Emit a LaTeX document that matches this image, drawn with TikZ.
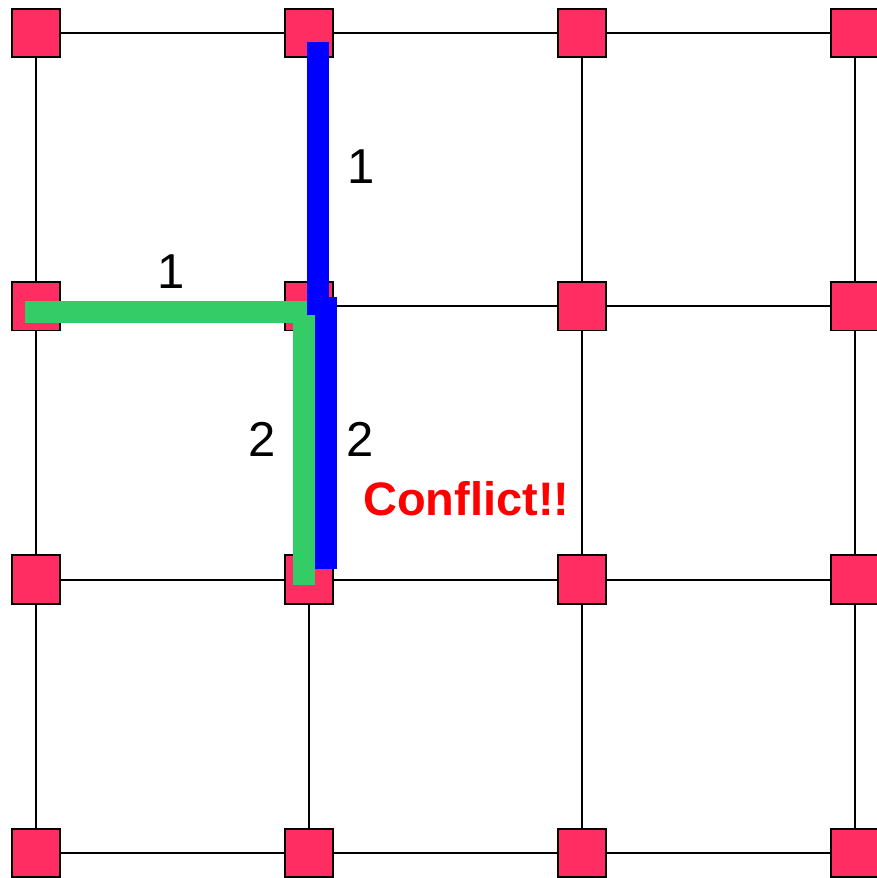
\documentclass[tikz,border=0pt]{standalone}
\usepackage{fontspec}
\setmainfont{Liberation Sans}
\usepackage{tikz}
\usetikzlibrary{calc}
\definecolor{vertpink}{HTML}{FF2D62}
\definecolor{pathgreen}{HTML}{33CC66}
\definecolor{pathblue}{HTML}{0000FF}
\tikzset{
  vertex/.style={draw=black,fill=vertpink,line width=1.8pt,minimum size=48.5pt,inner sep=0pt},
  gridline/.style={draw=black,line width=1.8pt},
  route/.style={line width=22pt,line join=miter},
  cost/.style={font=\fontsize{49}{49}\selectfont,anchor=base,inner sep=0pt}
}

\begin{document}
\begin{tikzpicture}[x=1pt,y=-1pt]
    \clip (0,0) rectangle (877,878);
    % grid of routers
    \foreach \i in {0,...,3}
      \foreach \j in {0,...,3}
        \node[vertex] (v\i\j) at ({36+273*\i},{33+273.3*\j}) {};
    \foreach \i in {0,...,3}
      \foreach \j/\k in {0/1,1/2,2/3} {
        \draw[gridline] (v\i\j) -- (v\i\k);
        \draw[gridline] (v\j\i) -- (v\k\i);
      }
    % green route
    \draw[route,pathgreen] ($(v01)+(-11,5.5)$) -- ($(v11)+(-5.5,5.5)$) -- ($(v12)+(-5.5,5.4)$);
    % blue route
    \draw[route,pathblue] ($(v10)+(9,9)$) -- ($(v11)+(9,9)$);
    \draw[route,pathblue] ($(v11)+(17,-9)$) -- ($(v12)+(17,-11)$);
    % labels
    \node[cost] (blueone) at (361.5,183) {1};
    \node[cost] (greenone) at (171.5,288) {1};
    \node[cost] (greentwo) at (262.5,456) {2};
    \node[cost] (bluetwo) at (360.5,456) {2};
    \node[font=\fontsize{47}{47}\selectfont\bfseries,text=red,anchor=base west,inner sep=0pt] (conflict) at (363,515) {Conflict!!};
\end{tikzpicture}
\end{document}
